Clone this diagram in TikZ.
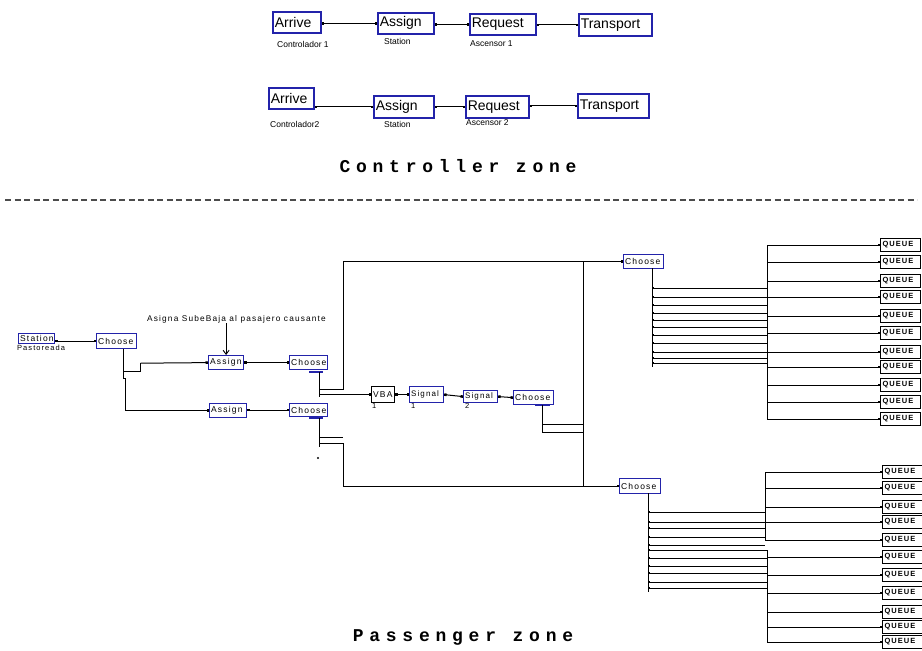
\documentclass[tikz,border=0pt]{standalone}
\usepackage{fontspec}
\setmainfont{Liberation Sans}
\newfontfamily\zonefont[LetterSpace=32]{Liberation Mono}
\newfontfamily\spacedfont[LetterSpace=14]{Liberation Sans}
\usetikzlibrary{arrows.meta}
\definecolor{arenablue}{RGB}{35,35,170}
\tikzset{
  bigbox/.style={draw=arenablue, line width=1.5pt, anchor=north west, inner xsep=2pt, inner ysep=0pt,
    align=left, font=\fontsize{14}{14}\selectfont, text=black},
  smallbox/.style={draw=arenablue, line width=1.2pt, anchor=north west, inner xsep=1.5pt, inner ysep=0pt,
    align=left, font=\spacedfont\fontsize{8.5}{8.5}\selectfont, text=black},
  qbox/.style={draw=black, line width=1pt, anchor=west, inner xsep=2pt, inner ysep=0pt,
    minimum height=13pt, text width=36pt, align=left, font=\spacedfont\bfseries\fontsize{7.5}{7.5}\selectfont},
  lab/.style={anchor=north west, inner sep=0pt, font=\fontsize{8.5}{8.5}\selectfont},
  slab/.style={anchor=north west, inner sep=0pt, font=\spacedfont\fontsize{7.5}{7.5}\selectfont},
  zone/.style={font=\zonefont\bfseries\fontsize{18}{18}\selectfont, inner sep=0pt},
  conn/.style={line width=1pt, {Square[length=2.5pt,width=2.5pt]}-{Square[length=2.5pt,width=2.5pt]}},
  inconn/.style={line width=1pt, -{Square[length=2.5pt,width=2.5pt]}},
  wire/.style={line width=1pt},
  bar/.style={line width=1.6pt, arenablue},
}
\begin{document}
\begin{tikzpicture}[x=1pt,y=-1pt]
\useasboundingbox (0,0) rectangle (922,651);
\fill[white] (0,0) rectangle (922,651);

% ---------------- Controller zone ----------------
\node[bigbox, text width=44pt, minimum height=21pt] (ar1) at (272,11) {Arrive};
\node[bigbox, text width=52pt, minimum height=21pt] (as1t) at (377,12) {Assign};
\node[bigbox, text width=62pt, minimum height=21pt] (rq1) at (469,13) {Request};
\node[bigbox, text width=69pt, minimum height=22pt] (tr1) at (578,13) {Transport};
\node[lab] (l11) at (277,41) {Controlador 1};
\node[lab] (l12) at (384,38) {Station};
\node[lab] (l13) at (470,40) {Ascensor 1};
\draw[conn] (ar1.east |- as1t.west) -- (as1t.west);
\draw[conn] (as1t.east |- rq1.west) -- (rq1.west);
\draw[conn] (rq1.east |- tr1.west) -- (tr1.west);

\node[bigbox, text width=41pt, minimum height=21pt] (ar2) at (268,87) {Arrive};
\node[bigbox, text width=56pt, minimum height=22pt] (as2t) at (373,95) {Assign};
\node[bigbox, text width=59pt, minimum height=22pt] (rq2) at (465,95) {Request};
\node[bigbox, text width=67pt, minimum height=24pt] (tr2) at (577,93) {Transport};
\node[lab] (l21) at (270,121) {Controlador2};
\node[lab] (l22) at (384,121) {Station};
\node[lab] (l23) at (466,119) {Ascensor 2};
\draw[conn] (ar2.east |- as2t.west) -- (as2t.west);
\draw[conn] (as2t.east |- rq2.west) -- (rq2.west);
\draw[conn] (rq2.east |- tr2.west) -- (tr2.west);

\node[zone] (cz) at (458,166) {Controller zone};

\draw[dash pattern=on 6pt off 3.5pt, line width=1.3pt, black!70] (5,200) -- (917,200);

% ---------------- Passenger zone ----------------
\node[smallbox, text width=33pt, minimum height=10pt] (st) at (18,333) {Station};
\node[slab] (stl) at (17,345) {Pastoreada};
\node[smallbox, text width=37pt, minimum height=15pt] (c1) at (96,333) {Choose};
\draw[conn] (st.east |- c1.west) -- (c1.west);

\node[font=\spacedfont\fontsize{8.3}{8.3}\selectfont, anchor=west, inner sep=0pt] (ann) at (147,319) {Asigna SubeBaja al pasajero causante};
\node[smallbox, text width=32pt, minimum height=14pt] (a1) at (208,355) {Assign};
\node[smallbox, text width=35pt, minimum height=14pt] (c2) at (289,355) {Choose};
\node[smallbox, text width=34pt, minimum height=14pt] (a2) at (209,403) {Assign};
\node[smallbox, text width=35pt, minimum height=13pt] (c3) at (289,403) {Choose};
\draw[line width=0.9pt, -{Straight Barb[length=4pt,width=6pt]}] (ann.south -| a1) -- (a1.north);

\draw[wire] ([xshift=7pt]c1.south) -- ++(0,22) -- ++(17,0) -- ++(0,-8) coordinate (k1);
\draw[inconn] (k1) -- (a1.west);
\draw[wire] ([xshift=7pt]c1.south) -- ++(0,29) -- ++(2,0) coordinate (k2);
\draw[inconn] (k2) |- (a2.west);
\draw[conn] (a1.east) -- (c2.west);
\draw[conn] (c3.west -| a2.east) -- (c3.west);

% branch buses under Choose 2 and 3
\draw[bar] (309,372) -- (323,372);
\draw[bar] (309,418) -- (323,418);
\draw[wire] (319,372) -- (319,397);
\draw[wire] (319,418) -- (319,447);
\fill (318,458) circle (1.1pt);

\node[smallbox, draw=black, text width=20pt, minimum height=16pt] (vba) at (371,386) {VBA};
\node[slab] (vbal) at (372,403) {1};
\node[smallbox, text width=31pt, minimum height=16pt, font=\spacedfont\fontsize{8}{8}\selectfont] (s1) at (409,386) {Signal};
\node[slab] (s1l) at (411,403) {1};
\node[smallbox, text width=31pt, minimum height=12pt, font=\spacedfont\fontsize{8}{8}\selectfont] (s2) at (463,390) {Signal};
\node[slab] (s2l) at (465,403) {2};
\node[smallbox, text width=37pt, minimum height=14pt] (c6) at (513,390) {Choose};
\draw[inconn] (vba.west -| 319,0) -- (vba.west);
\draw[conn] (vba.east) -- (s1.west);
\draw[conn] (s1.east) -- (s2.west);
\draw[conn] (s2.east) -- (c6.west);

\node[smallbox, text width=37pt, minimum height=14pt] (c4) at (623,254) {Choose};
\node[smallbox, text width=38pt, minimum height=15pt] (c5) at (619,478) {Choose};

% loops to the right choose blocks
\draw[wire, -{Square[length=2.5pt,width=2.5pt]}] (319,389) -- (343,389) |- (c4.west);
\draw[wire] (319,437) -- (343,437);
\draw[wire, -{Square[length=2.5pt,width=2.5pt]}] (319,443) -- (343,443) |- (c5.west);
\draw[wire] (c4.west -| 583,0) -- (c5.west -| 583,0);
\draw[bar] (535,405) -- (550,405);
\draw[wire] (542,405) -- (542,432);
\draw[wire] (542,424) -- (583,424);
\draw[wire] (542,432) -- (583,432);

% ---------- top queue group ----------
\draw[wire] (652,268) -- (652,367);
\foreach \y in {288,297,305,313,320,327,335,343,352,358,363}
  \draw[wire, {Square[length=2pt,width=2pt]}-] (652,\y) -- (767,\y);
\draw[wire] (767,245) -- (767,419);
\foreach \y [count=\i] in {245,262,281,297,316,333,352,367,385,402,419}{
  \node[qbox] (qt\i) at (880,\y) {QUEUE};
  \draw[inconn] (767,\y) -- (qt\i.west);
}

% ---------- bottom queue group ----------
\draw[wire] (648,493) -- (648,592);
\foreach \y in {512,522,528,537,545}
  \draw[wire, {Square[length=2pt,width=2pt]}-] (648,\y) -- (765,\y);
\foreach \y in {550,558,566,573,582,588}
  \draw[wire, {Square[length=2pt,width=2pt]}-] (648,\y) -- (767,\y);
\draw[wire] (765,472) -- (765,540);
\draw[wire] (767,550) -- (767,642);
\foreach \y [count=\i] in {472,488,507,522,540}{
  \node[qbox] (qb\i) at (882,\y) {QUEUE};
  \draw[inconn] (765,\y) -- (qb\i.west);
}
\foreach \y [count=\i from 6] in {557,575,593,612,627,642}{
  \node[qbox] (qb\i) at (882,\y) {QUEUE};
  \draw[inconn] (767,\y) -- (qb\i.west);
}

\node[zone] (pz) at (463,637) {Passenger zone};
\end{tikzpicture}
\end{document}
